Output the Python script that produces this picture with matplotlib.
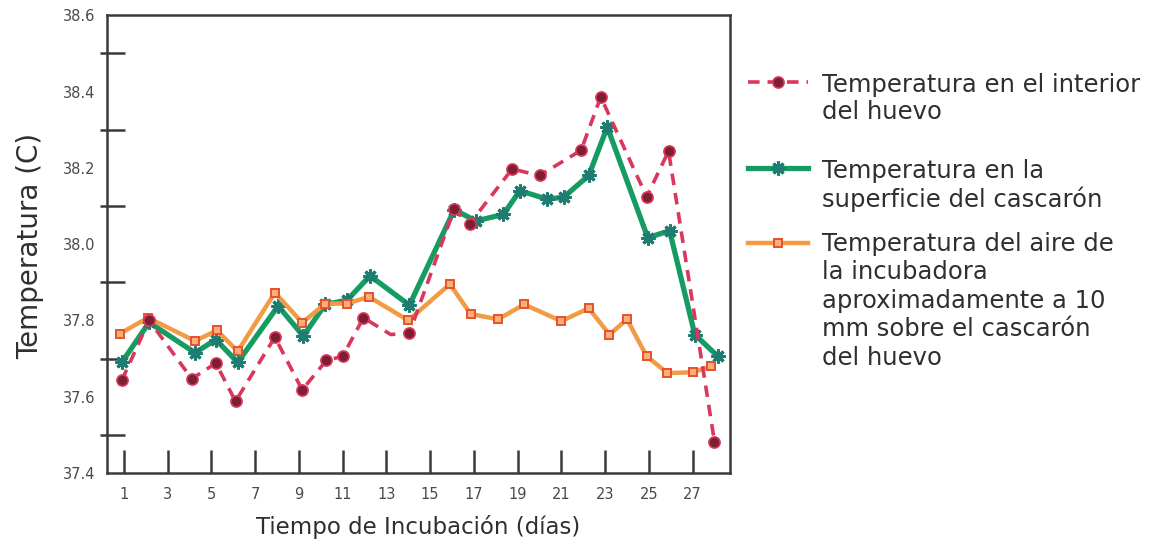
import matplotlib
matplotlib.use("Agg")
import matplotlib.pyplot as plt
from matplotlib.lines import Line2D

plt.rcParams['font.family'] = ['DejaVu Sans']

# ---------------- data ----------------
red_days = [0.9, 2.15, 4.1, 5.2, 6.1, 7.9, 9.15, 10.25, 11.0, 11.95, 13.2, 14.05,
            16.1, 16.8, 18.75, 20.0, 21.9, 22.8, 24.9, 25.9, 28.0]
red_vals = [37.643, 37.80, 37.647, 37.688, 37.588, 37.756, 37.618, 37.695, 37.706,
            37.807, 37.763, 37.767, 38.092, 38.053, 38.197, 38.18, 38.246, 38.386,
            38.124, 38.244, 37.482]
red_marker_idx = [0, 1, 2, 3, 4, 5, 6, 7, 8, 9, 11, 12, 13, 14, 15, 16, 17, 18, 19, 20]

green_days = [0.9, 2.15, 4.25, 5.2, 6.2, 8.05, 9.2, 10.2, 11.2, 12.25, 14.05, 16.1,
              17.1, 18.35, 19.1, 20.35, 21.1, 22.25, 23.1, 24.95, 25.95, 27.1, 28.15]
green_vals = [37.69, 37.795, 37.715, 37.75, 37.69, 37.838, 37.759, 37.842, 37.853,
              37.917, 37.84, 38.09, 38.061, 38.078, 38.14, 38.118, 38.123, 38.18,
              38.307, 38.017, 38.035, 37.763, 37.706]

orange_days = [0.8, 2.1, 4.25, 5.25, 6.2, 7.9, 9.15, 10.2, 11.2, 12.2, 14.0, 15.9,
               16.85, 18.1, 19.3, 21.0, 22.25, 23.2, 24.0, 24.9, 25.85, 27.0, 27.85]
orange_vals = [37.765, 37.807, 37.746, 37.774, 37.719, 37.873, 37.794, 37.844, 37.844,
               37.862, 37.80, 37.895, 37.817, 37.803, 37.842, 37.798, 37.832, 37.763,
               37.803, 37.706, 37.662, 37.664, 37.68]

x_ticks = list(range(1, 28, 2))
y_label_ticks = [37.4, 37.6, 37.8, 38.0, 38.2, 38.4, 38.6]
y_mark_ticks = [37.5, 37.7, 37.9, 38.1, 38.3, 38.5]

legend_labels = [
    ["Temperatura en el interior", "del huevo"],
    ["Temperatura en la", "superficie del cascarón"],
    ["Temperatura del aire de", "la incubadora", "aproximadamente a 10",
     "mm sobre el cascarón", "del huevo"],
]
x_title = "Tiempo de Incubación (días)"
y_title = "Temperatura (C)"

# ---------------- style ----------------
W, H = 1150, 542
fig = plt.figure(figsize=(W / 100, H / 100), dpi=100)
ax_l, ax_r, ax_t, ax_b = 106.7, 730, 15.3, 473
ax = fig.add_axes([ax_l / W, 1 - ax_b / H, (ax_r - ax_l) / W, (ax_b - ax_t) / H])

axis_col = '#3a3a3a'
text_col = '#2f2f2f'
red_line = '#d9375c'
red_face = '#7d1f33'
green_line = '#169c62'
green_mark = '#1f7c70'
orange_line = '#f39a45'
orange_edge = '#e8502a'
orange_face = '#fbb07a'

ax.plot(green_days, green_vals, color=green_line, lw=3.8, zorder=2,
        solid_joinstyle='miter', solid_capstyle='butt')
ax.plot(green_days, green_vals, ls='none', marker=(8, 2, 0), ms=10, mew=2.2,
        color=green_mark, zorder=2.1)

ax.plot(orange_days, orange_vals, color=orange_line, lw=3.2, zorder=3,
        marker='s', ms=6, mfc=orange_face, mec=orange_edge, mew=1.4)

ax.plot(red_days, red_vals, color=red_line, lw=2.6, ls=(0, (3.2, 2.2)), zorder=4)
ax.plot([red_days[i] for i in red_marker_idx], [red_vals[i] for i in red_marker_idx],
        ls='none', marker='o', ms=8, mfc=red_face, mec=red_line, mew=1.2, zorder=5)

ax.set_xlim(0.21, 28.71)
ax.set_ylim(37.4, 38.6)

for s in ax.spines.values():
    s.set_color(axis_col)
    s.set_linewidth(1.8)

ax.set_xticks(x_ticks)
ax.set_xticklabels([str(t) for t in x_ticks])
ax.tick_params(axis='x', direction='in', length=16.5, width=1.8, color=axis_col,
               labelsize=10.5, labelcolor='#4a4a4a', pad=10)

ax.set_yticks(y_label_ticks)
ax.set_yticklabels([f"{t:.1f}" for t in y_label_ticks])
ax.set_yticks(y_mark_ticks, minor=True)
ax.tick_params(axis='y', which='major', length=0, labelsize=10.5, labelcolor='#4a4a4a', pad=8)
ax.tick_params(axis='y', which='minor', direction='in', length=13, width=1.8, color=axis_col)

sec = ax.secondary_yaxis('left')
sec.set_yticks(y_mark_ticks)
sec.tick_params(direction='out', length=5, width=1.8, color=axis_col, labelleft=False)
sec.spines['left'].set_visible(False)

fig.text(30 / W, 1 - 246 / H, y_title, rotation=90, ha='center', va='center',
         fontsize=20, color=text_col)
fig.text(418 / W, 1 - 527 / H, x_title, ha='center', va='center',
         fontsize=16.5, color=text_col)

# ---------------- legend (manual) ----------------
handle_y = [82, 168, 243]
line_y = [[92, 119], [178, 207], [251, 279, 308, 336, 365]]
hx0, hx1, tx = 748, 808, 822


def fx(px):
    return px / W


def fy(py):
    return 1 - py / H


fig.add_artist(Line2D([fx(hx0), fx(hx1)], [fy(handle_y[0])] * 2, color=red_line, lw=2.6,
                      ls=(0, (3.2, 2.2)), transform=fig.transFigure))
fig.add_artist(Line2D([fx((hx0 + hx1) / 2)], [fy(handle_y[0])], ls='none', marker='o', ms=8,
                      mfc=red_face, mec=red_line, mew=1.2, transform=fig.transFigure))
fig.add_artist(Line2D([fx(hx0), fx(hx1)], [fy(handle_y[1])] * 2, color=green_line, lw=3.8,
                      transform=fig.transFigure))
fig.add_artist(Line2D([fx((hx0 + hx1) / 2)], [fy(handle_y[1])], ls='none', marker=(8, 2, 0),
                      ms=10, mew=2.2, color=green_mark, transform=fig.transFigure))
fig.add_artist(Line2D([fx(hx0), fx(hx1)], [fy(handle_y[2])] * 2, color=orange_line, lw=3.2,
                      transform=fig.transFigure))
fig.add_artist(Line2D([fx((hx0 + hx1) / 2)], [fy(handle_y[2])], ls='none', marker='s', ms=6,
                      mfc=orange_face, mec=orange_edge, mew=1.4, transform=fig.transFigure))

for lines, ys in zip(legend_labels, line_y):
    for txt, yy in zip(lines, ys):
        fig.text(fx(tx), fy(yy), txt, ha='left', va='baseline', fontsize=17.5, color=text_col)

fig.savefig('out.png', dpi=100)
